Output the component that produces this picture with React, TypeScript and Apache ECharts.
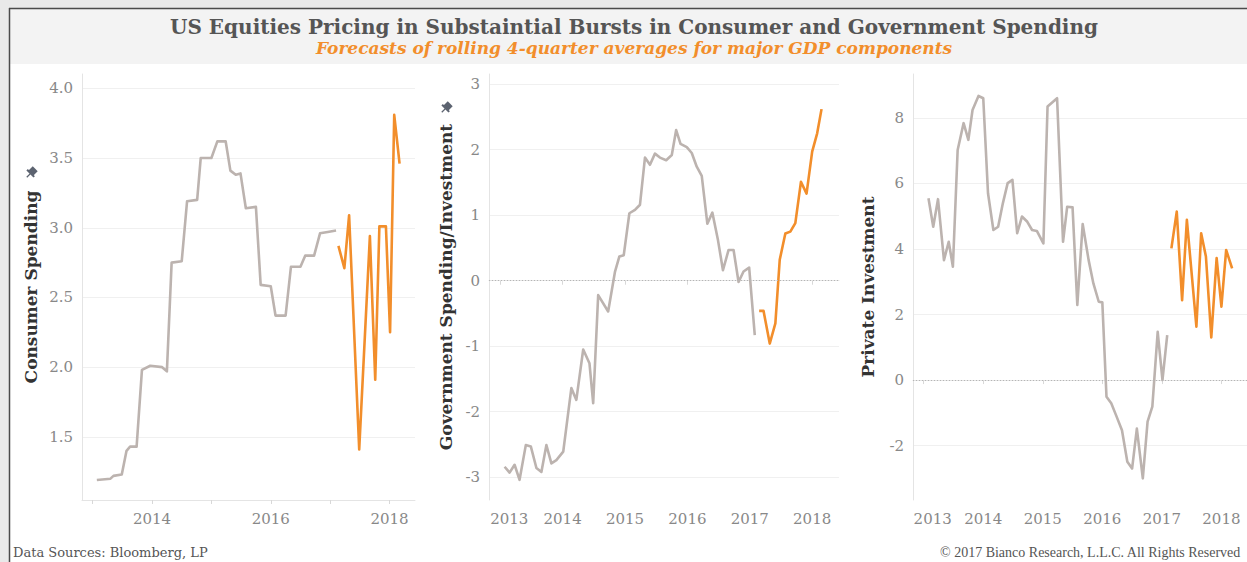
import React, { useEffect, useRef } from "react";
import * as echarts from "echarts";

// ---------- data ----------
const TITLE = "US Equities Pricing in Substaintial Bursts in Consumer and Government Spending";
const SUBTITLE = "Forecasts of rolling 4-quarter averages for major GDP components";
const SOURCE_TEXT = "Data Sources: Bloomberg, LP";
const COPYRIGHT_TEXT = "© 2017 Bianco Research, L.L.C. All Rights Reserved";

const AXIS_NAMES = ["Consumer Spending", "Government Spending/Investment", "Private Investment"];

const YEAR_TICKS = [2013, 2014, 2015, 2016, 2017, 2018];
const YEAR_LABELS_P1 = [2014, 2016, 2018];
const YEAR_LABELS_P2 = [2013, 2014, 2015, 2016, 2017, 2018];
const YEAR_LABELS_P3 = [2013, 2014, 2015, 2016, 2017, 2018];

const Y_LABELS_P1 = [1.5, 2.0, 2.5, 3.0, 3.5, 4.0];
const Y_LABELS_P2 = [-3, -2, -1, 0, 1, 2, 3];
const Y_LABELS_P3 = [-2, 0, 2, 4, 6, 8];

// Panel 1: Consumer Spending
const consumerHistX = [2013.07, 2013.3, 2013.35, 2013.49, 2013.57, 2013.63, 2013.74, 2013.83, 2013.97, 2014.17, 2014.25, 2014.33, 2014.5, 2014.59, 2014.76, 2014.82, 2015.0, 2015.1, 2015.24, 2015.32, 2015.41, 2015.49, 2015.58, 2015.75, 2015.83, 2016.0, 2016.08, 2016.25, 2016.34, 2016.5, 2016.58, 2016.73, 2016.83, 2016.96, 2017.1];
const consumerHistY = [1.19, 1.2, 1.22, 1.23, 1.4, 1.43, 1.43, 1.98, 2.01, 2.0, 1.97, 2.75, 2.76, 3.19, 3.2, 3.5, 3.5, 3.62, 3.62, 3.41, 3.38, 3.39, 3.14, 3.15, 2.59, 2.58, 2.37, 2.37, 2.72, 2.72, 2.8, 2.8, 2.96, 2.97, 2.98];
const consumerFcstX = [2017.14, 2017.24, 2017.32, 2017.49, 2017.67, 2017.76, 2017.83, 2017.94, 2018.01, 2018.08, 2018.17];
const consumerFcstY = [2.87, 2.71, 3.09, 1.41, 2.94, 1.91, 3.01, 3.01, 2.25, 3.81, 3.46];

// Panel 2: Government Spending / Investment
const govHistX = [2013.07, 2013.15, 2013.23, 2013.31, 2013.41, 2013.49, 2013.58, 2013.66, 2013.74, 2013.82, 2013.9, 2014.01, 2014.14, 2014.22, 2014.33, 2014.43, 2014.49, 2014.57, 2014.73, 2014.84, 2014.91, 2014.98, 2015.07, 2015.16, 2015.24, 2015.32, 2015.4, 2015.48, 2015.56, 2015.66, 2015.75, 2015.82, 2015.89, 2015.99, 2016.07, 2016.15, 2016.23, 2016.32, 2016.4, 2016.49, 2016.57, 2016.66, 2016.74, 2016.82, 2016.9, 2016.99, 2017.08];
const govHistY = [-2.84, -2.93, -2.81, -3.04, -2.51, -2.53, -2.86, -2.92, -2.51, -2.79, -2.74, -2.61, -1.64, -1.82, -1.05, -1.26, -1.87, -0.22, -0.47, 0.14, 0.37, 0.39, 1.03, 1.08, 1.16, 1.88, 1.77, 1.94, 1.88, 1.84, 1.92, 2.3, 2.09, 2.04, 1.95, 1.74, 1.6, 0.87, 1.04, 0.62, 0.16, 0.47, 0.47, -0.02, 0.14, 0.2, -0.83];
const govFcstX = [2017.15, 2017.22, 2017.32, 2017.41, 2017.48, 2017.57, 2017.65, 2017.73, 2017.82, 2017.91, 2018.0, 2018.08, 2018.15];
const govFcstY = [-0.46, -0.46, -0.96, -0.65, 0.32, 0.72, 0.75, 0.88, 1.51, 1.33, 1.97, 2.25, 2.62];

// Panel 3: Private Investment
const privHistX = [2013.08, 2013.16, 2013.24, 2013.34, 2013.42, 2013.49, 2013.57, 2013.67, 2013.75, 2013.82, 2013.92, 2014.0, 2014.08, 2014.17, 2014.25, 2014.33, 2014.41, 2014.49, 2014.57, 2014.65, 2014.74, 2014.82, 2014.9, 2015.01, 2015.08, 2015.24, 2015.34, 2015.41, 2015.5, 2015.58, 2015.67, 2015.77, 2015.85, 2015.94, 2016.0, 2016.07, 2016.15, 2016.23, 2016.33, 2016.42, 2016.5, 2016.58, 2016.68, 2016.76, 2016.84, 2016.93, 2017.01, 2017.09];
const privHistY = [5.55, 4.68, 5.52, 3.66, 4.22, 3.46, 7.02, 7.84, 7.33, 8.24, 8.67, 8.6, 5.7, 4.58, 4.68, 5.4, 6.01, 6.11, 4.48, 4.99, 4.83, 4.58, 4.55, 4.17, 8.35, 8.6, 4.22, 5.29, 5.27, 2.29, 4.76, 3.66, 2.95, 2.39, 2.37, -0.51, -0.71, -1.07, -1.53, -2.49, -2.7, -1.48, -3.0, -1.27, -0.81, 1.47, 0.0, 1.37];
const privFcstX = [2017.16, 2017.25, 2017.34, 2017.42, 2017.58, 2017.66, 2017.74, 2017.83, 2017.92, 2018.0, 2018.08, 2018.18];
const privFcstY = [4.02, 5.14, 2.44, 4.89, 1.63, 4.48, 3.77, 1.3, 3.72, 2.24, 3.97, 3.41];

// ---------- styling ----------
const GREY_LINE = "#bcb3af";
const ORANGE = "#f28e2b";
const SERIF = "'DejaVu Serif', 'Liberation Serif', serif";
const SERIF_NARROW = "'Liberation Serif', 'DejaVu Serif', serif";
const LABEL_COLOR = "#888888";
const GRID_COLOR = "#f0f0f0";
const AXIS_COLOR = "#e4e4e4";

const X_MIN = 2012.82;
const X_MAX = 2018.43;

const zip = (xs: number[], ys: number[]) => xs.map((x, i) => [x, ys[i]]);

function makeXAxis(gridIndex: number, labels: number[]) {
  return {
    type: "value",
    gridIndex,
    min: X_MIN,
    max: X_MAX,
    axisLine: { show: true, lineStyle: { color: AXIS_COLOR, width: 1 } },
    axisTick: { show: true, customValues: YEAR_TICKS, length: 4, lineStyle: { color: "#d8d8d8" } },
    splitLine: { show: false },
    axisLabel: {
      customValues: labels,
      color: LABEL_COLOR,
      fontFamily: SERIF,
      fontSize: 15,
      margin: 11,
      formatter: (v: number) => (Math.round(v) === 2013 ? "{first|" + Math.round(v) + "}" : String(Math.round(v))),
      rich: {
        first: { color: LABEL_COLOR, fontFamily: SERIF, fontSize: 15, padding: [0, 0, 0, 18] },
      },
    },
  };
}

function makeYAxis(
  gridIndex: number,
  min: number,
  max: number,
  labels: number[],
  gridValues: number[],
  name: string,
  nameGap: number,
  fmt: (v: number) => string
) {
  return {
    type: "value",
    gridIndex,
    min,
    max,
    name,
    nameLocation: "middle",
    nameGap,
    nameRotate: 90,
    nameTextStyle: { fontFamily: SERIF, fontWeight: "bold", fontSize: 17, color: "#333333" },
    axisLine: { show: true, lineStyle: { color: AXIS_COLOR, width: 1 } },
    axisTick: { show: false, customValues: gridValues },
    splitLine: { show: true, lineStyle: { color: GRID_COLOR, width: 1 } },
    axisLabel: {
      customValues: labels,
      color: LABEL_COLOR,
      fontFamily: SERIF,
      fontSize: 15,
      margin: 9,
      formatter: fmt,
    },
  };
}

function lineSeries(xi: number, data: number[][], color: string) {
  return {
    type: "line",
    xAxisIndex: xi,
    yAxisIndex: xi,
    data,
    showSymbol: false,
    symbol: "none",
    lineStyle: { color, width: 2.6, join: "round" },
    itemStyle: { color },
    silent: true,
    z: 3,
  };
}

function zeroLine(xi: number) {
  return {
    type: "line",
    xAxisIndex: xi,
    yAxisIndex: xi,
    data: [],
    silent: true,
    markLine: {
      silent: true,
      symbol: "none",
      label: { show: false },
      lineStyle: { type: [1, 2], color: "#b5b5b5", width: 1 },
      data: [{ yAxis: 0 }],
    },
  };
}

function pin(x: number, y: number) {
  return {
    type: "group",
    x,
    y,
    rotation: -Math.PI / 4,
    z: 10,
    children: [
      { type: "rect", shape: { x: -3.5, y: -6, width: 7, height: 6 }, style: { fill: "#5c6370" } },
      { type: "rect", shape: { x: -5, y: -0.5, width: 10, height: 2 }, style: { fill: "#5c6370" } },
      { type: "line", shape: { x1: 0, y1: 1, x2: 0, y2: 6 }, style: { stroke: "#5c6370", lineWidth: 1.2 } },
    ],
  };
}

export default function App() {
  const ref = useRef<HTMLDivElement>(null);

  useEffect(() => {
    document.body.style.margin = "0";
    if (!ref.current) return;
    const chart = echarts.init(ref.current, undefined, { renderer: "svg" });

    const option = {
      animation: false,
      backgroundColor: "#ffffff",
      grid: [
        { left: 82, top: 74, width: 333, height: 426 },
        { left: 489, top: 74, width: 350, height: 426 },
        { left: 913, top: 74, width: 344, height: 426 },
      ],
      xAxis: [makeXAxis(0, YEAR_LABELS_P1), makeXAxis(1, YEAR_LABELS_P2), makeXAxis(2, YEAR_LABELS_P3)],
      yAxis: [
        makeYAxis(0, 1.047, 4.103, Y_LABELS_P1, Y_LABELS_P1, AXIS_NAMES[0], 43, (v) => v.toFixed(1)),
        makeYAxis(1, -3.348, 3.156, Y_LABELS_P2, Y_LABELS_P2.filter((v) => v !== 0), AXIS_NAMES[1], 35, (v) => String(Math.round(v))),
        makeYAxis(2, -3.66, 9.34, Y_LABELS_P3, Y_LABELS_P3.filter((v) => v !== 0), AXIS_NAMES[2], 37, (v) => String(Math.round(v))),
      ],
      series: [
        zeroLine(1),
        zeroLine(2),
        lineSeries(0, zip(consumerHistX, consumerHistY), GREY_LINE),
        lineSeries(0, zip(consumerFcstX, consumerFcstY), ORANGE),
        lineSeries(1, zip(govHistX, govHistY), GREY_LINE),
        lineSeries(1, zip(govFcstX, govFcstY), ORANGE),
        lineSeries(2, zip(privHistX, privHistY), GREY_LINE),
        lineSeries(2, zip(privFcstX, privFcstY), ORANGE),
      ],
      graphic: [
        { type: "rect", shape: { x: 0, y: 0, width: 1247, height: 8 }, style: { fill: "#e9e9e9" }, z: -10, silent: true },
        { type: "rect", shape: { x: 0, y: 0, width: 9, height: 562 }, style: { fill: "#e9e9e9" }, z: -10, silent: true },
        { type: "rect", shape: { x: 10, y: 9, width: 1237, height: 55 }, style: { fill: "#f3f3f3" }, z: -10, silent: true },
        { type: "line", shape: { x1: 9, y1: 8.5, x2: 1247, y2: 8.5 }, style: { stroke: "#4a4a4a", lineWidth: 1.5 }, z: -5, silent: true },
        { type: "line", shape: { x1: 9.5, y1: 8, x2: 9.5, y2: 562 }, style: { stroke: "#4a4a4a", lineWidth: 1.5 }, z: -5, silent: true },
        {
          type: "text",
          x: 634,
          y: 27,
          style: {
            text: TITLE,
            fontFamily: SERIF,
            fontWeight: "bold",
            fontSize: 20,
            fill: "#555555",
            align: "center",
            verticalAlign: "middle",
          },
          silent: true,
        },
        {
          type: "text",
          x: 634,
          y: 48,
          style: {
            text: SUBTITLE,
            fontFamily: SERIF,
            fontWeight: "bold",
            fontStyle: "italic",
            fontSize: 17,
            fill: "#f28e2b",
            align: "center",
            verticalAlign: "middle",
          },
          silent: true,
        },
        {
          type: "text",
          x: 13,
          y: 552,
          style: { text: SOURCE_TEXT, fontFamily: SERIF, fontSize: 13, fill: "#555555", verticalAlign: "middle" },
          silent: true,
        },
        {
          type: "text",
          x: 940,
          y: 552,
          style: { text: COPYRIGHT_TEXT, fontFamily: SERIF_NARROW, fontSize: 14, fill: "#555555", verticalAlign: "middle" },
          silent: true,
        },
        pin(31, 173),
        pin(446, 108),
      ],
    };

    chart.setOption(option as any);
    return () => chart.dispose();
  }, []);

  return <div ref={ref} style={{ width: 1247, height: 562 }} />;
}
